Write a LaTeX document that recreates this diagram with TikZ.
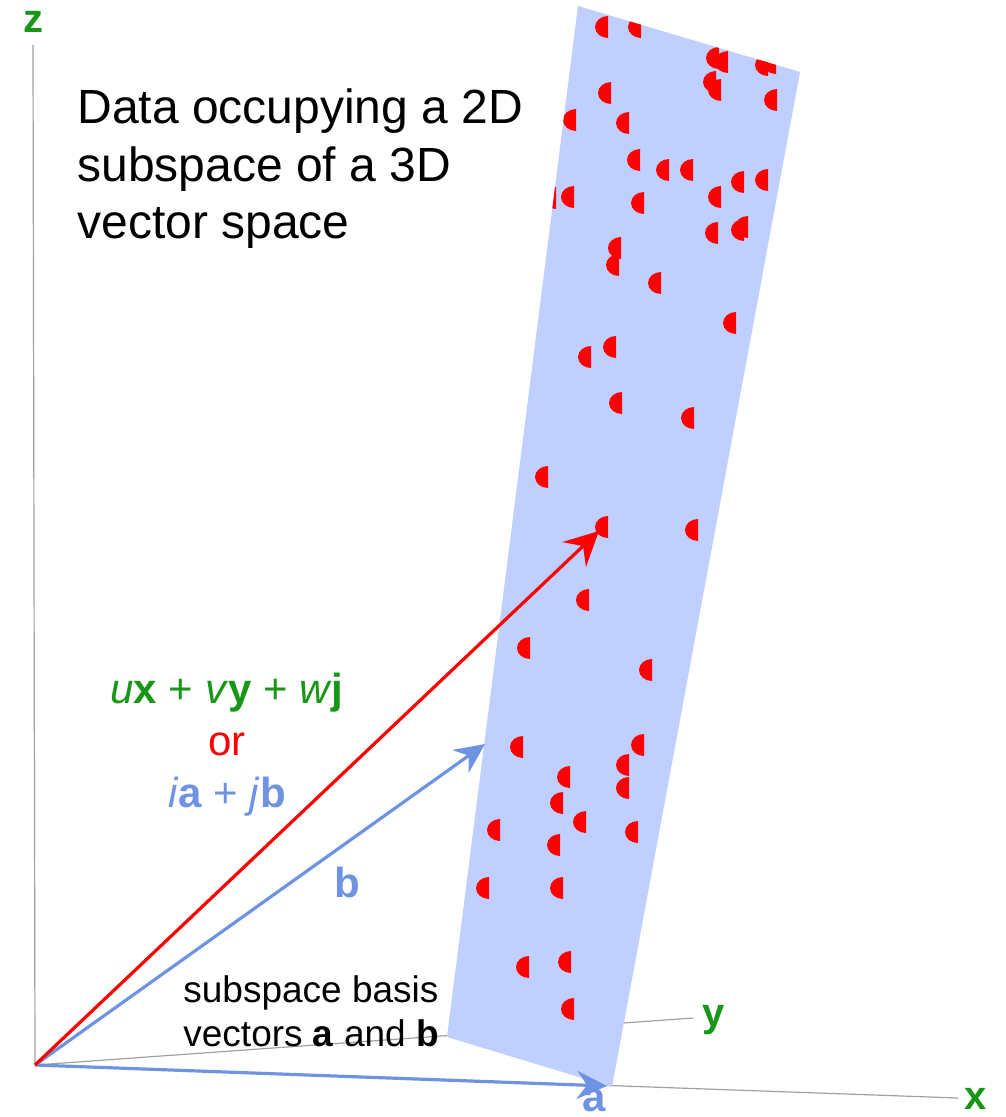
\documentclass[tikz,border=0pt]{standalone}
\usepackage{fontspec}
\setmainfont{Liberation Sans}
\usetikzlibrary{arrows.meta}
\definecolor{sp-plane}{HTML}{BFCFFF}
\definecolor{sp-blue}{HTML}{6E93E2}
\definecolor{sp-green}{HTML}{179617}
\definecolor{sp-red}{HTML}{FF0000}
\definecolor{sp-axis}{HTML}{A0A0A0}

\begin{document}
\begin{tikzpicture}[
    x=0.5pt, y=-0.5pt,
    axisline/.style={draw=sp-axis, line width=0.6pt},
    axlabel/.style={text=sp-green, font=\fontsize{20}{24}\selectfont\bfseries, inner sep=0pt},
    subplane/.style={fill=sp-plane, draw=none},
    datapt/.style={fill=sp-red},
    vecb/.style={draw=sp-blue, line width=1.6pt, -{Stealth[length=15pt, width=14pt, inset=5pt]}},
    vecr/.style={draw=sp-red, line width=1.6pt, -{Stealth[length=17pt, width=17pt, inset=6pt]}},
    headtext/.style={font=\fontsize{24}{28.75}\selectfont, align=left, inner sep=0pt},
    basistext/.style={font=\fontsize{18.5}{22}\selectfont, align=left, inner sep=0pt},
    combotext/.style={font=\fontsize{21}{26}\selectfont, align=center, inner sep=0pt},
    veclabel/.style={text=sp-blue, font=\fontsize{21}{24}\selectfont\bfseries, inner sep=0pt}
]
\useasboundingbox (0,0) rectangle (1005,1117);

% axes
\coordinate (O) at (35,1065);
\coordinate (zend) at (33,45);
\coordinate (xend) at (958,1098);
\coordinate (yend) at (693,1018);
\draw[axisline] (O) -- (zend);
\draw[axisline] (O) -- (xend);
\draw[axisline] (O) -- (yend);
\node[axlabel] (zlab) at (33,22) {z};
\node[axlabel] (xlab) at (976,1099) {x};
\node[axlabel] (ylab) at (714,1020) {y};

% the 2D subspace
\coordinate (p1) at (578,6);
\coordinate (p2) at (800,72);
\coordinate (p3) at (612,1087);
\coordinate (p4) at (447,1037);
\fill[subplane] (p1) -- (p2) -- (p3) -- (p4) -- cycle;

% data points, clipped to the plane
\begin{scope}
  \clip (p1) -- (p2) -- (p3) -- (p4) -- cycle;
  \foreach \px/\py in {607/27, 640/27, 718/58, 727/62, 767/65, 775/63,
      715/82, 720/90, 776/100, 610/93, 575/120, 628/123, 639/160,
      668/170, 692/170, 555/198, 573/197, 643/203, 720/197, 743/182,
      767/180, 717/233, 747/227, 743/230, 620/248, 618/265, 660/283,
      735/323, 615/347, 590/357, 621/403, 693/418, 547/477, 607/527,
      697/530, 588/600, 529/648, 651/670, 522/747, 643/745, 628/765,
      628/788, 569/777, 562/803, 585/822, 499/830, 559/845, 637/832,
      488/888, 562/888, 528/967, 570/962, 573/1009}
    \fill[datapt] (\px+1,\py-11) arc[start angle=90, end angle=270, x radius=6.5pt, y radius=5.5pt] -- cycle;
\end{scope}

% vectors
\coordinate (atip) at (607,1086);
\coordinate (btip) at (485,744);
\coordinate (rtip) at (599,531);
\draw[vecb] (O) -- (atip);
\draw[vecb] (O) -- (btip);
\draw[vecr] (O) -- (rtip);
\node[veclabel] (alab) at (594,1100) {a};
\node[veclabel, anchor=base] (blab) at (347,897) {b};

% texts
\node[headtext, anchor=base west] (head) at (77,239)
    {Data occupying a 2D\\subspace of a 3D\\vector space};
\node[combotext, anchor=base] (combo) at (227,807)
    {{\color{sp-green}\textit{u}\textbf{x} + \textit{v}\textbf{y} + \textit{w}\textbf{j}}\\
     {\color{sp-red}or}\\
     {\color{sp-blue}\textit{i}\textbf{a} + \textit{j}\textbf{b}}};
\node[basistext, anchor=base west] (basis) at (183,1046)
    {subspace basis\\vectors \textbf{a} and \textbf{b}};

\end{tikzpicture}
\end{document}
